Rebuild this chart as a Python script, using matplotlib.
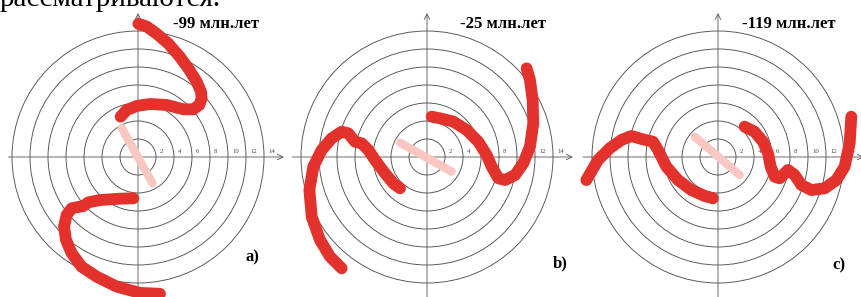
import matplotlib
matplotlib.use("Agg")
import matplotlib.pyplot as plt
from matplotlib.patches import Circle

plt.rcParams['font.family'] = ['Liberation Serif', 'DejaVu Serif']

W, H = 862, 297
S = 9.0  # pixels per unit

rings = [2, 4, 6, 8, 10, 12, 14]
ages = ["-99 млн.лет", "-25 млн.лет", "-119 млн.лет"]
letters = ["a)", "b)", "c)"]

# arm tracks, (x, y) in the units of the rings
arm_a1 = [(0.04, 14.8), (0.96, 14.5), (2.07, 13.7), (3.37, 12.6), (4.67, 11.1),
          (5.59, 9.85), (6.52, 8.37), (7.0, 7.26), (7.07, 6.52), (6.81, 5.78),
          (6.15, 5.3), (5.04, 5.3), (3.19, 5.78), (1.33, 5.89), (-0.15, 5.67),
          (-1.26, 5.22), (-1.93, 4.48)]
arm_a2 = [(-0.52, -4.59), (-2.0, -4.63), (-4.22, -4.78), (-5.52, -5.04), (-6.07, -5.44),
          (-7.37, -5.7), (-7.93, -6.44), (-8.22, -7.74), (-8.0, -9.22), (-7.37, -10.7),
          (-6.26, -12.2), (-4.59, -13.3), (-2.37, -14.4), (0.22, -15.1), (2.44, -15.2)]
arm_b1 = [(0.52, 4.48), (1.44, 4.3), (2.93, 3.93), (4.41, 3.0), (5.7, 1.7), (6.63, 0.22),
          (7.19, -1.07), (7.93, -2.37), (8.67, -2.56), (9.78, -2.0), (10.7, -0.7),
          (11.44, 1.15), (11.81, 3.74), (11.74, 6.33), (11.44, 8.56), (11.07, 9.85)]
arm_b2 = [(-3.0, -3.48), (-3.74, -2.93), (-4.67, -1.81), (-5.78, -0.33), (-6.52, 0.78),
          (-7.26, 1.52), (-8.0, 1.7), (-8.74, 2.63), (-9.48, 2.81), (-10.6, 2.07),
          (-11.7, 0.78), (-12.63, -1.07), (-13.07, -3.67), (-12.81, -6.63),
          (-11.89, -9.22), (-10.78, -11.07), (-9.48, -12.37)]
arm_c1 = [(2.96, 3.37), (4.07, 2.81), (5.0, 1.7), (5.56, 0.41), (5.85, -1.07),
          (6.3, -2.19), (6.85, -2.37), (7.78, -1.44), (8.52, -2.0), (9.26, -3.11),
          (10.37, -3.67), (11.85, -3.48), (13.15, -2.56), (14.07, -1.07),
          (14.63, 1.52), (14.81, 4.48)]
arm_c2 = [(-0.56, -4.59), (-1.48, -4.33), (-2.96, -3.67), (-4.44, -2.56), (-5.74, -1.07),
          (-6.67, 0.78), (-7.22, 1.7), (-8.33, 1.96), (-9.63, 2.33), (-10.74, 1.89),
          (-12.04, 0.96), (-13.33, -0.33), (-14.63, -2.56)]
arms = [[arm_a1, arm_a2], [arm_b1, arm_b2], [arm_c1, arm_c2]]

bars = [[(-1.8, 3.2), (1.6, -2.9)],
        [(-3.0, 1.59), (2.74, -1.63)],
        [(-2.59, 2.26), (2.41, -2.0)]]

centers = [(138, 157), (427, 157), (718, 157)]
xaxis_left = [-14.4, -15.0, -15.0]
age_x = [3.9, 3.7, 2.7]
letter_pos = [(11.9, -11.2), (14.0, -11.8), (12.7, -12.0)]

fig = plt.figure(figsize=(W / 100, H / 100), dpi=100)

fig.text(0, 1 - 6 / H, "рассматриваются.", fontsize=21, va='baseline', ha='left')

for i in range(3):
    cx, cy = centers[i]
    ax = fig.add_axes([(cx - 145) / W, 0, 290 / W, 1])
    ax.set_xlim(-145 / S, 145 / S)
    ax.set_ylim(-(H - cy) / S, cy / S)
    ax.axis('off')

    for r in rings:
        ax.add_patch(Circle((0, 0), r, fill=False, lw=0.65, ec='#505050', zorder=1))
        ax.text(r + 0.45, 0.35, str(r), fontsize=4.8, color='#444444',
                ha='left', va='bottom', zorder=2)

    arrow = dict(arrowstyle='->', lw=0.6, color='#555555', shrinkA=0, shrinkB=0)
    ax.annotate('', xy=(16.2, 0), xytext=(xaxis_left[i], 0),
                arrowprops=arrow, annotation_clip=False, zorder=1)
    ax.annotate('', xy=(0, 16.0), xytext=(0, -16.5),
                arrowprops=arrow, annotation_clip=False, zorder=1)

    (x0, y0), (x1, y1) = bars[i]
    ax.plot([x0, x1], [y0, y1], color='#f9c7c2', lw=6, solid_capstyle='round', zorder=3)

    for arm in arms[i]:
        xs = [p[0] for p in arm]
        ys = [p[1] for p in arm]
        ax.plot(xs, ys, color='#e3312b', lw=8.5, solid_capstyle='round',
                solid_joinstyle='round', zorder=4)

    ax.text(age_x[i], 14.8, ages[i], fontsize=12, fontweight='bold',
            ha='left', va='center', zorder=5)
    ax.text(letter_pos[i][0], letter_pos[i][1], letters[i], fontsize=12,
            fontweight='bold', ha='left', va='center', zorder=5)

fig.savefig("out.png", dpi=100)
